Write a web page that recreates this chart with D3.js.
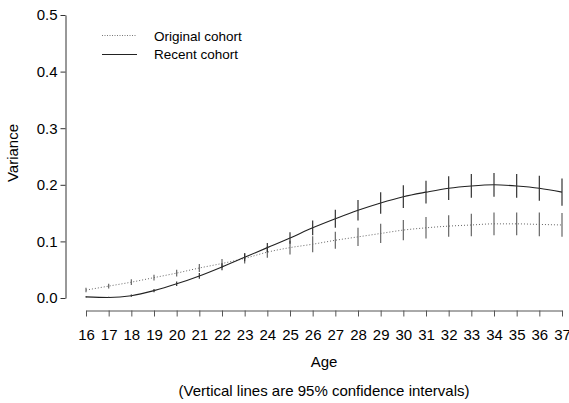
<!DOCTYPE html>
<html>
<head>
<meta charset="utf-8">
<script src="https://cdn.jsdelivr.net/npm/d3@7"></script>
<style>
  body { margin: 0; background: #fff; }
  text { font-family: "Liberation Sans", Arial, sans-serif; fill: #000; }
</style>
</head>
<body>
<script>
/*
Data
*/
var ages = d3.range(16, 38);

var originalVar = [0.014, 0.021, 0.028, 0.036, 0.044, 0.053, 0.061, 0.070, 0.081, 0.089, 0.095,
                   0.102, 0.108, 0.114, 0.120, 0.124, 0.127, 0.129, 0.131, 0.131, 0.130, 0.129];
var originalCI = [0.004, 0.004, 0.005, 0.005, 0.006, 0.007, 0.008, 0.009, 0.010, 0.012, 0.014,
                  0.015, 0.016, 0.017, 0.018, 0.019, 0.019, 0.020, 0.020, 0.020, 0.021, 0.021];

var recentVar = [0.002, 0.001, 0.004, 0.013, 0.025, 0.039, 0.055, 0.072, 0.089, 0.106, 0.124,
                 0.140, 0.155, 0.168, 0.179, 0.187, 0.194, 0.198, 0.200, 0.198, 0.194, 0.187];
var recentCI = [0.001, 0.001, 0.002, 0.003, 0.004, 0.005, 0.006, 0.007, 0.008, 0.010, 0.013,
                0.016, 0.018, 0.019, 0.020, 0.020, 0.021, 0.021, 0.021, 0.021, 0.022, 0.024];

var yTicks = [0, 0.1, 0.2, 0.3, 0.4, 0.5];
var seriesNames = ["Original cohort", "Recent cohort"];

var width = 569,
    height = 403;

var svg = d3.select("body").append("svg")
    .attr("width", width)
    .attr("height", height);

var x = d3.scaleLinear().domain([16, 37]).range([86, 562]);
var y = d3.scaleLinear().domain([0, 0.5]).range([298, 15]);

// y axis
var yAxis = svg.append("g")
    .attr("transform", "translate(65.5,0)")
    .call(d3.axisLeft(y).tickValues(yTicks).tickFormat(d3.format(".1f"))
        .tickSize(5).tickSizeOuter(0).tickPadding(3));
yAxis.selectAll("text").style("font-size", "15px");
yAxis.selectAll("path, line").attr("stroke", "#333");

// x axis
var xAxis = svg.append("g")
    .attr("transform", "translate(0,310.5)")
    .call(d3.axisBottom(x).tickValues(ages).tickFormat(d3.format("d"))
        .tickSize(6).tickSizeOuter(0).tickPadding(13));
xAxis.selectAll("text").style("font-size", "15px");
xAxis.selectAll("path, line").attr("stroke", "#555");

svg.append("text")
    .attr("x", 324).attr("y", 367)
    .attr("text-anchor", "middle")
    .style("font-size", "15px")
    .text("Age");

svg.append("text")
    .attr("x", 324).attr("y", 396)
    .attr("text-anchor", "middle")
    .style("font-size", "15px")
    .text("(Vertical lines are 95% confidence intervals)");

svg.append("text")
    .attr("transform", "translate(18,153) rotate(-90)")
    .attr("text-anchor", "middle")
    .style("font-size", "15px")
    .text("Variance");

var line = d3.line()
    .x(function(d, i) { return x(ages[i]); })
    .y(function(d) { return y(d); })
    .curve(d3.curveMonotoneX);

// original cohort
svg.append("path")
    .attr("d", line(originalVar))
    .attr("fill", "none")
    .attr("stroke", "#666")
    .attr("stroke-width", 1)
    .attr("stroke-dasharray", "1,2");

svg.append("g")
    .selectAll("line")
    .data(originalVar)
    .enter().append("line")
    .attr("x1", function(d, i) { return x(ages[i]); })
    .attr("x2", function(d, i) { return x(ages[i]); })
    .attr("y1", function(d, i) { return y(d - originalCI[i]); })
    .attr("y2", function(d, i) { return y(d + originalCI[i]); })
    .attr("stroke", "#666")
    .attr("stroke-width", 1.2);

// recent cohort
svg.append("path")
    .attr("d", line(recentVar))
    .attr("fill", "none")
    .attr("stroke", "#222")
    .attr("stroke-width", 1.1);

svg.append("g")
    .selectAll("line")
    .data(recentVar)
    .enter().append("line")
    .attr("x1", function(d, i) { return x(ages[i]); })
    .attr("x2", function(d, i) { return x(ages[i]); })
    .attr("y1", function(d, i) { return y(d - recentCI[i]); })
    .attr("y2", function(d, i) { return y(d + recentCI[i]); })
    .attr("stroke", "#333")
    .attr("stroke-width", 1.2);

// legend
var legend = svg.append("g");
legend.append("line")
    .attr("x1", 102).attr("x2", 137).attr("y1", 35.5).attr("y2", 35.5)
    .attr("stroke", "#777").attr("stroke-dasharray", "1,1.5");
legend.append("line")
    .attr("x1", 102).attr("x2", 137).attr("y1", 54.5).attr("y2", 54.5)
    .attr("stroke", "#222");
legend.selectAll("text")
    .data(seriesNames)
    .enter().append("text")
    .attr("x", 154)
    .attr("y", function(d, i) { return 41 + i * 18; })
    .style("font-size", "13.5px")
    .text(function(d) { return d; });
</script>
</body>
</html>
